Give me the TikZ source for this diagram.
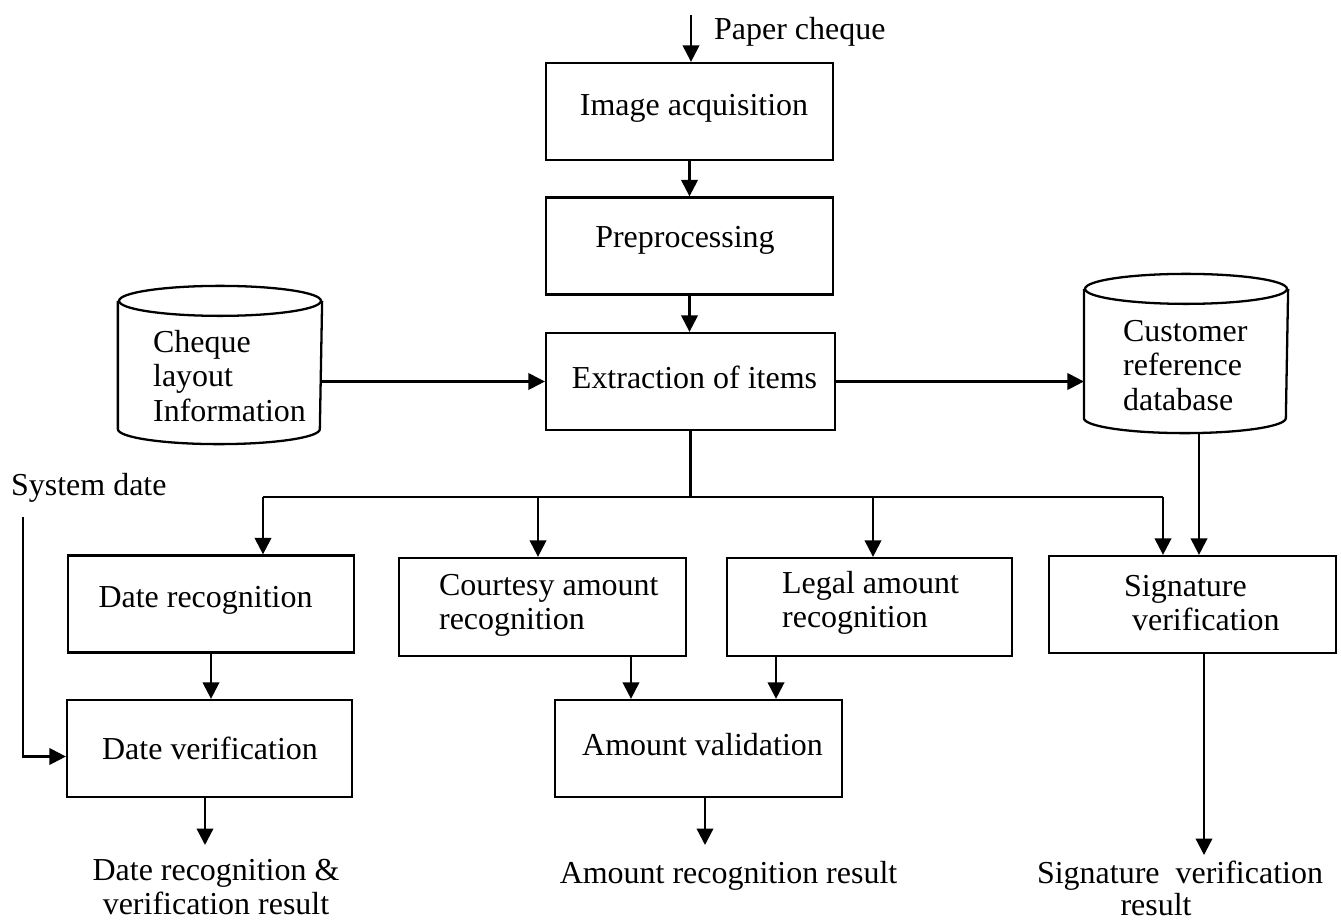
\documentclass[tikz,border=0pt]{standalone}
\usepackage{fontspec}
\setmainfont{Liberation Serif}
\usetikzlibrary{arrows.meta}
\begin{document}
\begin{tikzpicture}[x=0.02cm,y=-0.02cm, line width=1.3pt,
  every node/.style={font=\fontsize{18.2}{19.5}\selectfont, inner sep=0pt},
  box/.style={draw, minimum width=5.74cm, minimum height=1.94cm},
  txt/.style={align=left, anchor=west},
  arr/.style={-{Triangle[length=0.33cm,width=0.33cm]}}]
\useasboundingbox (0,0) rectangle (1341,922);

% boxes
\node[box] (img) at (689.5,111.5) {};
\node[box] (pre) at (689.5,246) {};
\node[box, minimum width=5.78cm] (ext) at (690.5,381.5) {};
\node[box, minimum width=5.72cm] (drec) at (211,604) {};
\node[box, minimum width=5.70cm] (dver) at (209.5,748.5) {};
\node[box, minimum height=1.96cm] (court) at (542.5,607) {};
\node[box, minimum width=5.70cm, minimum height=1.96cm] (legal) at (869.5,607) {};
\node[box] (sig) at (1192.5,604.5) {};
\node[box] (amt) at (698.5,748.5) {};

% cylinders
\node[minimum width=4.04cm, minimum height=3.12cm] (cl) at (220,365) {};
\draw ([yshift=-0.3cm]cl.north) ellipse [x radius=2.02cm, y radius=0.3cm];
\draw ([yshift=-0.3cm]cl.north west) -- ([yshift=0.3cm]cl.south west)
  arc[start angle=180, end angle=360, x radius=2.02cm, y radius=0.3cm]
  -- ([yshift=-0.3cm]cl.north east);
\node[minimum width=4.04cm, minimum height=3.14cm] (cu) at (1186,353.5) {};
\draw ([yshift=-0.3cm]cu.north) ellipse [x radius=2.02cm, y radius=0.3cm];
\draw ([yshift=-0.3cm]cu.north west) -- ([yshift=0.3cm]cu.south west)
  arc[start angle=180, end angle=360, x radius=2.02cm, y radius=0.3cm]
  -- ([yshift=-0.3cm]cu.north east);

% texts
\node (timg) at (694,108) {Image acquisition};
\node (tpre) at (685,240) {Preprocessing};
\node (text) at (694.5,377) {Extraction of items};
\node[txt] (tcl) at (152,376) {Cheque\\layout\\Information};
\node[txt] (tcu) at (1122,365.5) {Customer\\reference\\database};
\node (tdrec) at (205.5,600) {Date recognition};
\node (tdver) at (210,748) {Date verification};
\node[txt] (tcourt) at (438,605.5) {Courtesy amount\\recognition};
\node[txt] (tlegal) at (781,603) {Legal amount\\recognition};
\node[txt] (tsig) at (1123,603) {Signature\\\hspace*{0.16cm}verification};
\node (tamt) at (702.5,745) {Amount validation};
\node[txt] (tpc) at (713,32) {Paper cheque};
\node[txt] (tsd) at (10,488) {System date};
\node[align=center] (odate) at (216,887) {Date recognition \&\\verification result};
\node (oamt) at (728.5,876) {Amount recognition result};
\node[align=center, font=\fontsize{18.2}{18.2}\selectfont] (osig) at (1180,888) {Signature\ \ verification\\result\rule{0.96cm}{0pt}};

% connectors
\coordinate (pc) at (691,15);
\draw[arr] (pc) -- (pc |- img.north);
\draw[arr] (img.south) -- (img.south |- pre.north);
\draw[arr] (pre.south) -- (pre.south |- ext.north);
\draw[arr] (ext.west -| cl.east) -- (ext.west);
\draw[arr] (ext.east) -- (ext.east -| cu.west);

\coordinate (bus) at (690,497);
\coordinate (b1) at (263,497);
\coordinate (b2) at (538,497);
\coordinate (b3) at (873,497);
\coordinate (b4) at (1163,497);
\draw (ext.south) -- (ext.south |- bus);
\draw (b1) -- (b4);
\draw[arr] (b1) -- (b1 |- drec.north);
\draw[arr] (b2) -- (b2 |- court.north);
\draw[arr] (b3) -- (b3 |- legal.north);
\draw[arr] (b4) -- (b4 |- sig.north);

\coordinate (cud) at ([xshift=0.26cm]cu.south);
\draw[arr] (cud) -- (cud |- sig.north);

\draw[arr] (drec.south) -- (drec.south |- dver.north);
\coordinate (sd) at (23,517);
\coordinate (dvin) at ([yshift=-0.16cm]dver.west);
\draw[arr] (sd) -- (sd |- dvin) -- (dvin);

\coordinate (c1) at ([xshift=1.77cm]court.south);
\coordinate (c2) at ([xshift=-1.87cm]legal.south);
\draw[arr] (c1) -- (c1 |- amt.north);
\draw[arr] (c2) -- (c2 |- amt.north);

\coordinate (e1) at (205,845);
\coordinate (e2) at (705,845);
\coordinate (e3) at (1204,855);
\draw[arr] (dver.south -| e1) -- (e1);
\draw[arr] (amt.south -| e2) -- (e2);
\draw[arr] (sig.south -| e3) -- (e3);
\end{tikzpicture}
\end{document}
